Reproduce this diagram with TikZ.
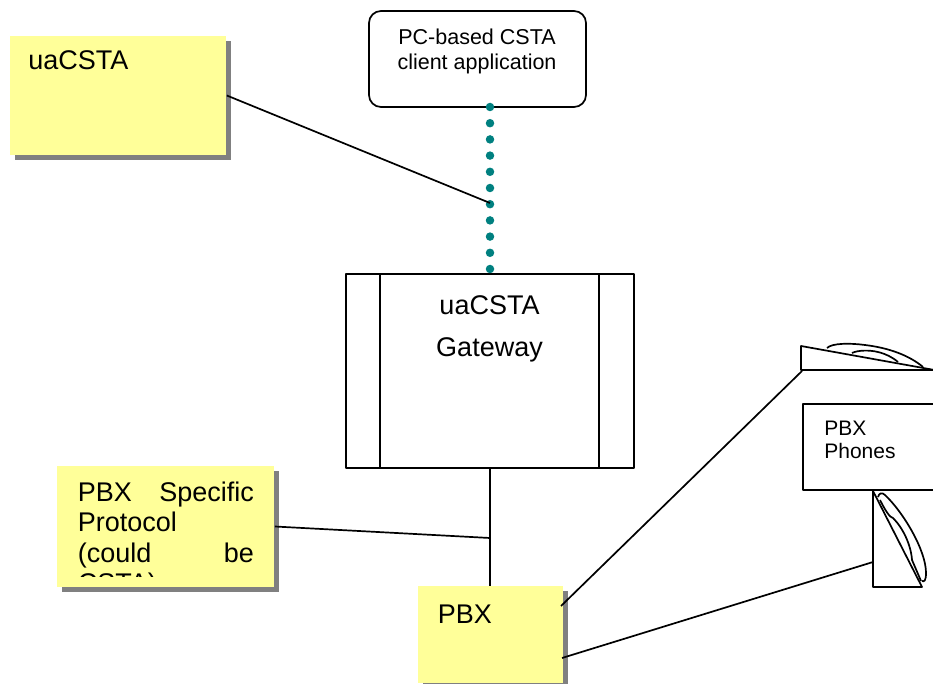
\documentclass[tikz,border=0pt]{standalone}
\usepackage{fontspec}
\setmainfont{Liberation Sans}
\usetikzlibrary{shadows}
\definecolor{notefill}{RGB}{255,255,153}
\definecolor{dotteal}{RGB}{0,128,128}
\begin{document}
\begin{tikzpicture}[x=1pt,y=-1pt,line width=1.7pt,line join=round,
                   note/.style={fill=notefill,inner sep=0pt,drop shadow={shadow xshift=5pt,shadow yshift=-5pt,opacity=1,fill=black!50}},
                   big/.style={inner sep=0pt,anchor=north west,font=\fontsize{27}{30.5}\selectfont},
                   small/.style={inner sep=0pt,align=left,font=\fontsize{21}{23}\selectfont}]
\clip (0,0) rectangle (933,684);
\node[note,minimum width=216pt,minimum height=119pt] (uanote) at (118,95.5) {};
\node[note,minimum width=217pt,minimum height=121pt] (specnote) at (165.5,526.5) {};
\node[note,minimum width=145pt,minimum height=97pt] (pbxnote) at (490.5,634.5) {};
\node[draw,rounded corners=12pt,minimum width=217pt,minimum height=96pt,inner sep=0pt] (client) at (477.5,59) {};
\node[draw,minimum width=288pt,minimum height=194pt,inner sep=0pt] (gateway) at (490,371) {};
\node[draw,minimum width=140pt,minimum height=86pt,inner sep=0pt] (phonebox) at (873,447) {};
\draw (380,274) -- (380,468) (599,274) -- (599,468);
% texts
\node[big] (uatext) at (27.5,49.5) {uaCSTA};
\node[inner sep=0pt,align=center,font=\fontsize{21.5}{24.5}\selectfont] (clienttext) at (477,51.5) {PC-based CSTA\\client application};
\node[inner sep=0pt,align=center,font=\fontsize{27}{42}\selectfont] (gatewaytext) at (489.5,329) {uaCSTA\\Gateway};
\node[small,anchor=north west] (phonetext) at (823.5,420) {PBX\\Phones};
\node[big] (pbxtext) at (437,604) {PBX};
\begin{scope}
\clip (57,466) rectangle (274,576);
\node[big,text width=176pt,align=left] (spectext) at (77,481) {PBX\hfill Specific\\Protocol\\(could\hfill be\\CSTA)};
\end{scope}
% connectors
\coordinate (dotstart) at (490,107);
\coordinate (dotend) at (490,269);
\coordinate (dotjoin) at (490,203);
\coordinate (busjoin) at (490,538);
\coordinate (bustop) at (490,586);
\coordinate (topphone) at (802,371);
\coordinate (lowphone) at (873,562);
\coordinate (pbxup) at (561,606);
\coordinate (pbxlow) at (562,658);
\draw[dotteal,line width=8.5pt,line cap=round,dash pattern=on 0pt off 16.2pt] (dotstart) -- (dotend);
\draw (uanote.east) -- (dotjoin);
\draw (gateway.south) -- (bustop);
\draw (specnote.east) -- (busjoin);
\draw (pbxup) -- (topphone);
\draw (pbxlow) -- (lowphone);
% top phone
\draw (940,370) -- (801,370) -- (801,346) -- (940,371);
\draw (827,348) .. controls (832,343) and (850,343) .. (865,345) .. controls (890,348) and (910,356) .. (923,367);
\draw (852,353) .. controls (858,350) and (870,350) .. (878,352) .. controls (886,354) and (892,357) .. (898,362);
% lower phone
\draw (922,587) -- (873,587) -- (873,491) -- cycle;
\draw (878,497) .. controls (879,493) and (882,492) .. (885,495) .. controls (903,512) and (926,550) .. (926,573) .. controls (926,581) and (924,582) .. (922,581);
\draw (880,500) .. controls (885,510) and (890,518) .. (893,518) .. controls (903,528) and (911,545) .. (912,560) -- (921,581);
\end{tikzpicture}
\end{document}
